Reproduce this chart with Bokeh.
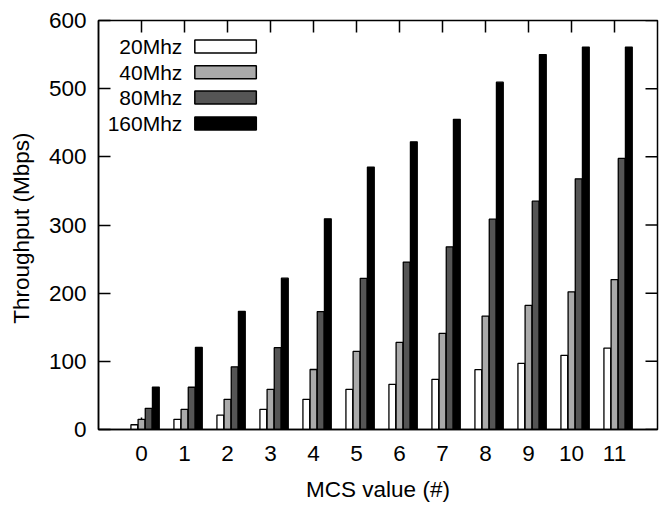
from bokeh.plotting import figure
from bokeh.models import Range1d, FixedTicker, BoxAnnotation, Label
from bokeh.embed import file_html
from bokeh.resources import INLINE

# ---- data ----
mcs = list(range(12))
mcs_labels = ["0", "1", "2", "3", "4", "5", "6", "7", "8", "9", "10", "11"]
series_names = ["20Mhz", "40Mhz", "80Mhz", "160Mhz"]
bw20 = [7, 15, 21, 29.6, 44.3, 59, 66.3, 73.6, 87.7, 97, 108.8, 119.5]
bw40 = [15, 29.6, 44.3, 59, 88, 114.6, 127.8, 141, 166.4, 182, 202, 220]
bw80 = [31, 62, 92, 120, 173, 221.7, 245.6, 268, 308.6, 335, 367.7, 397.6]
bw160 = [62.3, 120.5, 173.3, 222, 309, 385, 422, 455, 509.5, 550, 561, 561]
y_ticks = [0, 100, 200, 300, 400, 500, 600]

series = [bw20, bw40, bw80, bw160]
colors = ["#ffffff", "#aaaaaa", "#555555", "#000000"]

FONT = "Liberation Sans"
FS = "22.5px"
LFS = "21px"

W, H = 668, 506
BL, BR, BT, BB = 98, 11, 20, 77
X0, X1, Y0, Y1 = -1, 12, 0, 600
frame_w = W - BL - BR
frame_h = H - BT - BB
TICK = 12  # px
tick_dx = TICK * (X1 - X0) / frame_w
tick_dy = TICK * (Y1 - Y0) / frame_h

p = figure(width=W, height=H, x_range=Range1d(X0, X1), y_range=Range1d(Y0, Y1),
           output_backend="svg", toolbar_location=None,
           min_border_left=BL, min_border_right=BR, min_border_top=BT, min_border_bottom=BB)
p.grid.visible = False
p.outline_line_color = "black"
p.outline_line_width = 1.5
p.background_fill_color = "white"
p.border_fill_color = "white"

# mirrored tick marks (drawn first so bars cover the bottom ones)
p.segment(x0=mcs, x1=mcs, y0=[Y0] * len(mcs), y1=[Y0 + tick_dy] * len(mcs),
          line_color="black", line_width=1.5)
p.segment(x0=mcs, x1=mcs, y0=[Y1] * len(mcs), y1=[Y1 - tick_dy] * len(mcs),
          line_color="black", line_width=1.5)
p.segment(x0=[X1] * len(y_ticks), x1=[X1 - tick_dx] * len(y_ticks), y0=y_ticks, y1=y_ticks,
          line_color="black", line_width=1.5)

bar_w = 1.0 / 6
for j, (vals, col) in enumerate(zip(series, colors)):
    xs = [m + (j - 1) * bar_w for m in mcs]
    p.vbar(x=xs, top=vals, bottom=0, width=bar_w * 0.95, fill_color=col,
           line_color="black", line_width=1.3)

# bottom axis
xa = p.xaxis[0]
xa.ticker = FixedTicker(ticks=mcs)
xa.major_label_overrides = {m: l for m, l in zip(mcs, mcs_labels)}
xa.major_tick_in = 0
xa.major_tick_out = 0
xa.minor_tick_in = 0
xa.minor_tick_out = 0
xa.major_label_standoff = 16
xa.major_label_text_font = FONT
xa.major_label_text_font_size = FS
xa.major_label_text_color = "black"
xa.axis_label = "MCS value (#)"
xa.axis_label_text_font = FONT
xa.axis_label_text_font_size = FS
xa.axis_label_text_font_style = "normal"
xa.axis_label_text_color = "black"
xa.axis_label_standoff = 13
xa.axis_line_width = 1.5

# left axis
ya = p.yaxis[0]
ya.ticker = FixedTicker(ticks=y_ticks)
ya.major_tick_in = TICK
ya.major_tick_out = 0
ya.minor_tick_in = 0
ya.minor_tick_out = 0
ya.major_label_standoff = 12
ya.major_label_text_font = FONT
ya.major_label_text_font_size = FS
ya.major_label_text_color = "black"
ya.axis_label = "Throughput  (Mbps)"
ya.axis_label_text_font = FONT
ya.axis_label_text_font_size = FS
ya.axis_label_text_font_style = "normal"
ya.axis_label_text_color = "black"
ya.axis_label_standoff = 12
ya.axis_line_width = 1.5
ya.major_tick_line_width = 1.5

# legend (gnuplot style: label on the left, sample box on the right)
row_y = [562, 524, 487, 449]
for name, col, yy in zip(series_names, colors, row_y):
    p.add_layout(Label(x=0.95, y=yy, text=name, text_align="right", text_baseline="middle",
                       text_font=FONT, text_font_size=LFS, text_color="black"))
    p.add_layout(BoxAnnotation(left=1.24, right=2.67, bottom=yy - 9.5, top=yy + 9.5,
                               fill_color=col, fill_alpha=1.0, line_color="black",
                               line_width=1.5, line_alpha=1.0))

open("out.html", "w").write(file_html(p, INLINE))
